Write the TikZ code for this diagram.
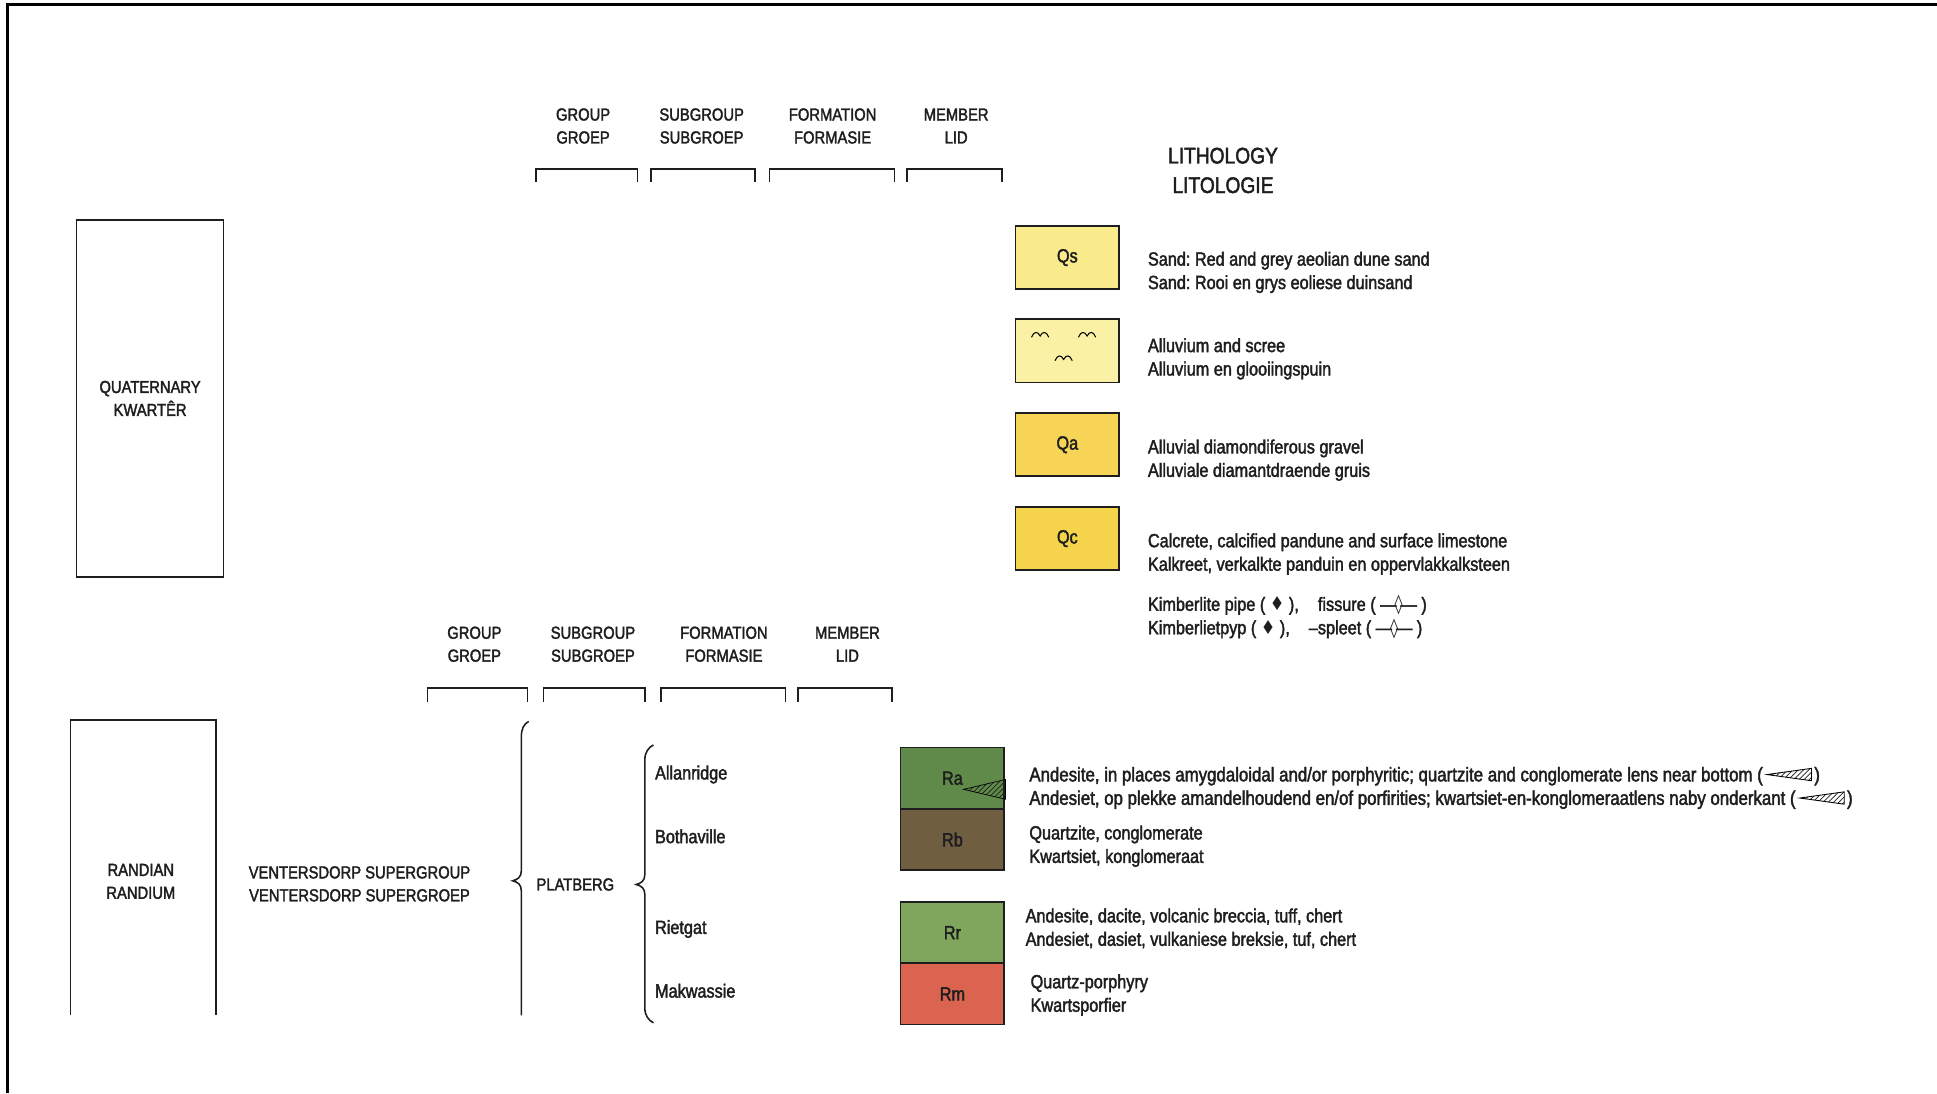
\documentclass[tikz,border=0pt]{standalone}
\usepackage{fontspec}
\setmainfont{Liberation Sans}[FakeStretch=0.85,FakeBold=2]
\newfontfamily\symfont{DejaVu Sans}[FakeStretch=0.85]
\usetikzlibrary{patterns,calc,positioning}
\definecolor{inkc}{RGB}{30,30,30}
\definecolor{qsfill}{RGB}{250,236,140}
\definecolor{qalfill}{RGB}{251,241,165}
\definecolor{qafill}{RGB}{247,212,85}
\definecolor{qcfill}{RGB}{245,212,75}
\definecolor{rafill}{RGB}{96,138,74}
\definecolor{rbfill}{RGB}{112,94,64}
\definecolor{rrfill}{RGB}{128,165,92}
\definecolor{rmfill}{RGB}{218,100,80}
\frenchspacing

\begin{document}
\begin{tikzpicture}[x=0.025cm,y=-0.025cm,font=\fontsize{11}{13.5}\selectfont,text=inkc,
  lens/.pic={\draw[line width=0.4pt,pattern=north east lines,pattern color=inkc] (0,0) -- (34,-8) -- (34,8) -- cycle;},
  lensb/.pic={\draw[line width=0.5pt,pattern=north east lines,pattern color=inkc] (0,0) -- (36,-5) -- (36,5) -- cycle;},
  wave/.pic={\draw[line width=0.6pt] (-7,2) .. controls (-5,-3) and (-2,-3) .. (0,1) .. controls (2,-3) and (5,-3) .. (7,2);}]
\tikzstyle{hd}=[align=center,inner sep=0pt,font=\fontsize{10}{13.2}\selectfont]
\tikzstyle{txt}=[align=left,anchor=west,inner sep=0pt]
\tikzstyle{brk}=[draw=inkc,line width=0.9pt]
\tikzstyle{lit}=[draw=inkc,line width=1pt,minimum width=2.1cm,minimum height=1.28cm,inner sep=0pt,font=\fontsize{11}{12}\selectfont]
\tikzstyle{rock}=[lit,minimum height=1.24cm]
\useasboundingbox (0,0) rectangle (1568,885);
\draw[line width=1.8pt] (6,885) -- (6,4) -- (1568,4);
% quaternary part
\node[draw=inkc,line width=1pt,minimum width=2.975cm,minimum height=7.225cm,align=center,font=\fontsize{10}{13.2}\selectfont] (quat) at (121.5,322.5) {QUATERNARY\\KWARTÊR};
\foreach \i/\x/\t in {1/472/{GROUP\\GROEP},2/568/{SUBGROUP\\SUBGROEP},3/674/{FORMATION\\FORMASIE},4/774/{MEMBER\\LID}} \node[hd] (qh\i) at (\x,102) {\t};
\foreach \a/\b in {434/516,527/611,623/724,734/811} \draw[brk] (\a,147) |- (\b,137) -- (\b,147);
\node[align=center,inner sep=0pt,font=\fontsize{13}{17}\selectfont] (lith) at (990,138) {LITHOLOGY\\LITOLOGIE};
\node[lit,fill=qsfill] (qs) at (864,208.5) {Qs};
\node[lit,fill=qalfill] (qal) at (864,284) {};
\pic at (842,271) {wave}; \pic at (880,271) {wave}; \pic at (861,290) {wave};
\node[lit,fill=qafill] (qa) at (864,360) {Qa};
\node[lit,fill=qcfill] (qc) at (864,436) {Qc};
\foreach \n/\y/\t in {qsd/220.5/{Sand: Red and grey aeolian dune sand\\Sand: Rooi en grys eoliese duinsand},
  qald/290.5/{Alluvium and scree\\Alluvium en glooiingspuin},
  qad/372.5/{Alluvial diamondiferous gravel\\Alluviale diamantdraende gruis},
  qcd/448.5/{Calcrete, calcified pandune and surface limestone\\Kalkreet, verkalkte panduin en oppervlakkalksteen},
  kimb/499.5/{Kimberlite pipe ( {\symfont ♦} ),\quad fissure ( —\hspace{-0.1em}{\symfont ◊}\hspace{-0.1em}— )\\Kimberlietpyp ( {\symfont ♦} ),\quad –spleet ( —\hspace{-0.1em}{\symfont ◊}\hspace{-0.1em}— )}}
  \node[txt] (\n) at (929,\y) {\t};
% randian part
\foreach \i/\x/\t in {1/384/{GROUP\\GROEP},2/480/{SUBGROUP\\SUBGROEP},3/586/{FORMATION\\FORMASIE},4/686/{MEMBER\\LID}} \node[hd] (rh\i) at (\x,521.5) {\t};
\foreach \a/\b in {346/427,440/522,535/636,646/722} \draw[brk] (\a,568) |- (\b,557) -- (\b,568);
\draw[line width=1pt,draw=inkc] (57,822) |- (175,583) -- (175,822);
\node[hd] (rand) at (114,713.5) {RANDIAN\\RANDIUM};
\node[hd] (vent) at (291,715.5) {VENTERSDORP SUPERGROUP\\VENTERSDORP SUPERGROEP};
\draw[brk] (428,584) .. controls (424,586) and (422,590) .. (422,597) -- (422,705) .. controls (422,710) and (419,712) .. (415,713) .. controls (419,714) and (422,716) .. (422,721) -- (422,822);
\node[hd,anchor=west] (plat) at (434,716) {PLATBERG};
\draw[brk] (529,603) .. controls (525,605) and (522,609) .. (522,615) -- (522,708) .. controls (522,713) and (519,715) .. (515,716) .. controls (519,717) and (522,719) .. (522,724) -- (522,816) .. controls (522,822) and (525,826) .. (529,828);
\foreach \n/\y/\t in {allan/627/Allanridge,both/677/Bothaville,riet/752/Rietgat,makw/802/Makwassie} \node[txt] (\n) at (530,\y) {\t};
\node[rock,fill=rafill] (ra) at (771,630) {Ra};
\node[rock,fill=rbfill] (rb) at (771,679.6) {Rb};
\node[rock,fill=rrfill] (rr) at (771,755) {Rr};
\node[rock,fill=rmfill] (rm) at (771,804.6) {Rm};
\pic at (780,639) {lens};
\tikzstyle{ratxt}=[txt,anchor=base west,font=\fontsize{11.4}{13.5}\selectfont]
\node[ratxt] (rad1) at (833,632.5) {Andesite, in places amygdaloidal and/or porphyritic; quartzite and conglomerate lens near bottom (};
\pic at ($(rad1.base east)+(3,-5.5)$) {lensb};
\node[ratxt] (rad1e) at ($(rad1.base east)+(41,0)$) {)};
\node[ratxt] (rad2) at (833,651.5) {Andesiet, op plekke amandelhoudend en/of porfirities; kwartsiet-en-konglomeraatlens naby onderkant (};
\pic at ($(rad2.base east)+(3,-5.5)$) {lensb};
\node[ratxt] (rad2e) at ($(rad2.base east)+(41,0)$) {)};
\node[txt] (rbd) at (833,685) {Quartzite, conglomerate\\Kwartsiet, konglomeraat};
\node[txt] (rrd) at (830,751.5) {Andesite, dacite, volcanic breccia, tuff, chert\\Andesiet, dasiet, vulkaniese breksie, tuf, chert};
\node[txt] (rmd) at (834,805.5) {Quartz-porphyry\\Kwartsporfier};
\end{tikzpicture}
\end{document}
